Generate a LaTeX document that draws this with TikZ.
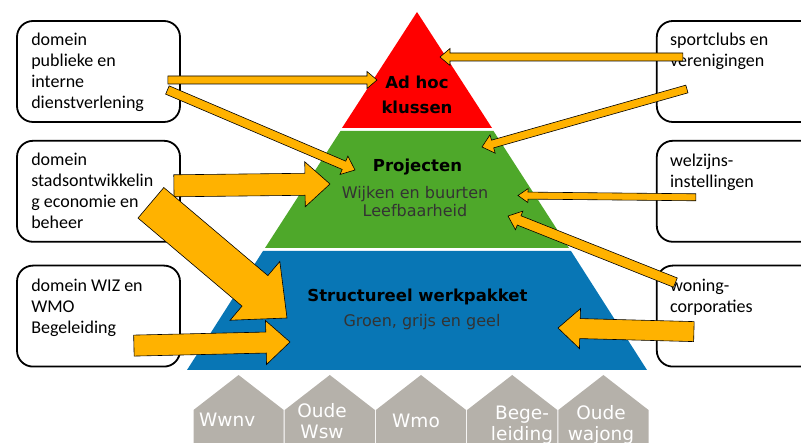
\documentclass[tikz,border=0pt]{standalone}
\usepackage{fontspec}
\setmainfont{Carlito}
\newfontfamily\layerfont{DejaVu Sans}
\newfontfamily\housefont{DejaVu Sans}
\usetikzlibrary{positioning,calc}

\definecolor{adhocred}{RGB}{255,0,0}
\definecolor{projgreen}{RGB}{78,168,42}
\definecolor{structblue}{RGB}{8,118,181}
\definecolor{flowgold}{RGB}{255,178,0}
\definecolor{housegray}{RGB}{181,177,170}

\tikzset{
  domain box/.style  = {draw, line width=1.8pt, rounded corners=16pt,
                        minimum width=163pt, minimum height=101pt,
                        inner sep=0pt},
  domain text/.style = {font=\fontsize{18}{21}\selectfont, align=left,
                        inner sep=0pt},
  layer title/.style = {font=\layerfont\bfseries\fontsize{16.5}{25}\selectfont,
                        align=center, inner sep=0pt},
  layer sub/.style   = {font=\layerfont\fontsize{16}{17}\selectfont,
                        align=center, inner sep=0pt, text=black!80},
  house/.style       = {fill=housegray},
  house text/.style  = {font=\housefont\fontsize{18.5}{21}\selectfont,
                        text=white, align=center, inner sep=0pt},
  flow arrow/.style  = {draw=black, line width=0.6pt, fill=flowgold,
                        line join=miter},
}

% tail, tip, half shaft, half head, head length
\newcommand{\flowarrow}[5]{%
  \coordinate (fa base) at ($(#2)!#5!(#1)$);
  \draw[flow arrow] ($(#1)!#3!90:(#2)$) -- ($(fa base)!#3!90:(#2)$)
    -- ($(fa base)!#4!90:(#2)$) -- (#2) -- ($(fa base)!#4!-90:(#2)$)
    -- ($(fa base)!#3!-90:(#2)$) -- ($(#1)!#3!-90:(#2)$) -- cycle;}

\begin{document}
\begin{tikzpicture}[x=1pt, y=-1pt]
  \useasboundingbox (0,0) rectangle (801,443);
  \clip (0,0) rectangle (801,443);

  %% --- pyramid ---------------------------------------------------
  \fill[adhocred]   (417,12) -- (492,128) -- (342,128) -- cycle;
  \fill[projgreen]  (340.5,131) -- (493.5,131) -- (569,248) -- (265,248) -- cycle;
  \fill[structblue] (263,251) -- (571,251) -- (647,370) -- (187,370) -- cycle;

  \node[layer title, anchor=north] (adhoc) at (417,70.5) {\strut Ad hoc\\klussen};
  \node[layer title, anchor=base] (proj) at (417.5,172) {Projecten};
  \node[layer sub, anchor=north] (proj sub) at (415,186.1)
    {\strut Wijken en buurten\\Leefbaarheid};
  \node[layer title, anchor=base] (struct) at (417.5,302) {Structureel werkpakket};
  \node[layer sub, anchor=base] (struct sub) at (422,327) {Groen, grijs en geel};

  %% --- houses ----------------------------------------------------
  \foreach \hx in {193,284.2,375.4,466.6,557.8}
    \fill[house] (\hx+0.5,450) -- (\hx+0.5,410) -- (\hx+45.6,375)
      -- (\hx+90.7,410) -- (\hx+90.7,450) -- cycle;

  \node[house text, anchor=base west] (wwnv) at (199,427) {Wwnv};
  \node[house text, anchor=north] (wsw) at (322,402.3) {\strut Oude\\Wsw};
  \node[house text, anchor=base] (wmo) at (416,428) {Wmo};
  \node[house text, anchor=north] (bege) at (522,404.3) {\strut Bege-\\leiding};
  \node[house text, anchor=north] (wajong) at (601,404.3) {\strut Oude\\wajong};

  %% --- domain boxes ----------------------------------------------
  \node[domain box] (pub) at (98.5,71.5) {};
  \node[domain box, below=17pt of pub] (stad) {};
  \node[domain box, below=22pt of stad] (wiz) {};
  \node[domain box, right=475pt of pub] (sport) {};
  \node[domain box, right=475pt of stad] (welz) {};
  \node[domain box, right=475pt of wiz] (won) {};

  \node[domain text, below right=10.5pt and 15pt of pub.north west] (pub txt)
    {\strut domein\\publieke en\\interne\\dienstverlening};
  \node[domain text, below right=10.5pt and 15pt of stad.north west] (stad txt)
    {\strut domein\\stadsontwikkelin\\g economie en\\beheer};
  \node[domain text, below right=11.5pt and 15pt of wiz.north west] (wiz txt)
    {\strut domein WIZ en\\WMO\\Begeleiding};
  \node[domain text, below right=10.5pt and 14pt of sport.north west] (sport txt)
    {\strut sportclubs en\\verenigingen};
  \node[domain text, below right=12pt and 14pt of welz.north west] (welz txt)
    {\strut welzijns-\\instellingen};
  \node[domain text, below right=11.5pt and 14pt of won.north west] (won txt)
    {\strut woning-\\corporaties};

  %% --- arrows ----------------------------------------------------
  \coordinate (pub out1)   at ($(pub.east)+(-13,8.5)$);
  \coordinate (pub out2)   at ($(pub.east)+(-13.5,18.5)$);
  \coordinate (stad out1)  at ($(stad.east)+(-7,-5.5)$);
  \coordinate (stad out2)  at ($(stad.east)+(-30,11.5)$);
  \coordinate (wiz out)    at ($(wiz.east)+(-47,29.5)$);
  \coordinate (sport out1) at ($(sport.west)+(27,-14.5)$);
  \coordinate (sport out2) at ($(sport.west)+(31,17.5)$);
  \coordinate (welz out)   at ($(welz.west)+(40,6)$);
  \coordinate (won out1)   at ($(won.west)+(19.5,-33.5)$);
  \coordinate (won out2)   at ($(won.west)+(38,15.5)$);

  \coordinate (adhoc in1)  at (377,80);
  \coordinate (adhoc in2)  at (440,57);
  \coordinate (proj in1)   at (355,170);
  \coordinate (proj in2)   at (330,184);
  \coordinate (proj in3)   at (482,147);
  \coordinate (proj in4)   at (518,195.5);
  \coordinate (proj in5)   at (508,216);
  \coordinate (struct in1) at (287,318);
  \coordinate (struct in2) at (290,342);
  \coordinate (struct in3) at (558,328);

  \flowarrow{pub out1}{adhoc in1}{4pt}{8.5pt}{10pt}
  \flowarrow{pub out2}{proj in1}{4.5pt}{10pt}{12pt}
  \flowarrow{stad out1}{proj in2}{11pt}{22.5pt}{25pt}
  \flowarrow{stad out2}{struct in1}{20pt}{38.5pt}{42pt}
  \flowarrow{wiz out}{struct in2}{10.5pt}{22pt}{24pt}
  \flowarrow{sport out1}{adhoc in2}{4pt}{8.5pt}{10pt}
  \flowarrow{sport out2}{proj in3}{4pt}{9.5pt}{11pt}
  \flowarrow{welz out}{proj in4}{3.5pt}{7pt}{10pt}
  \flowarrow{won out1}{proj in5}{5pt}{10pt}{12pt}
  \flowarrow{won out2}{struct in3}{10pt}{20pt}{22pt}
\end{tikzpicture}
\end{document}
